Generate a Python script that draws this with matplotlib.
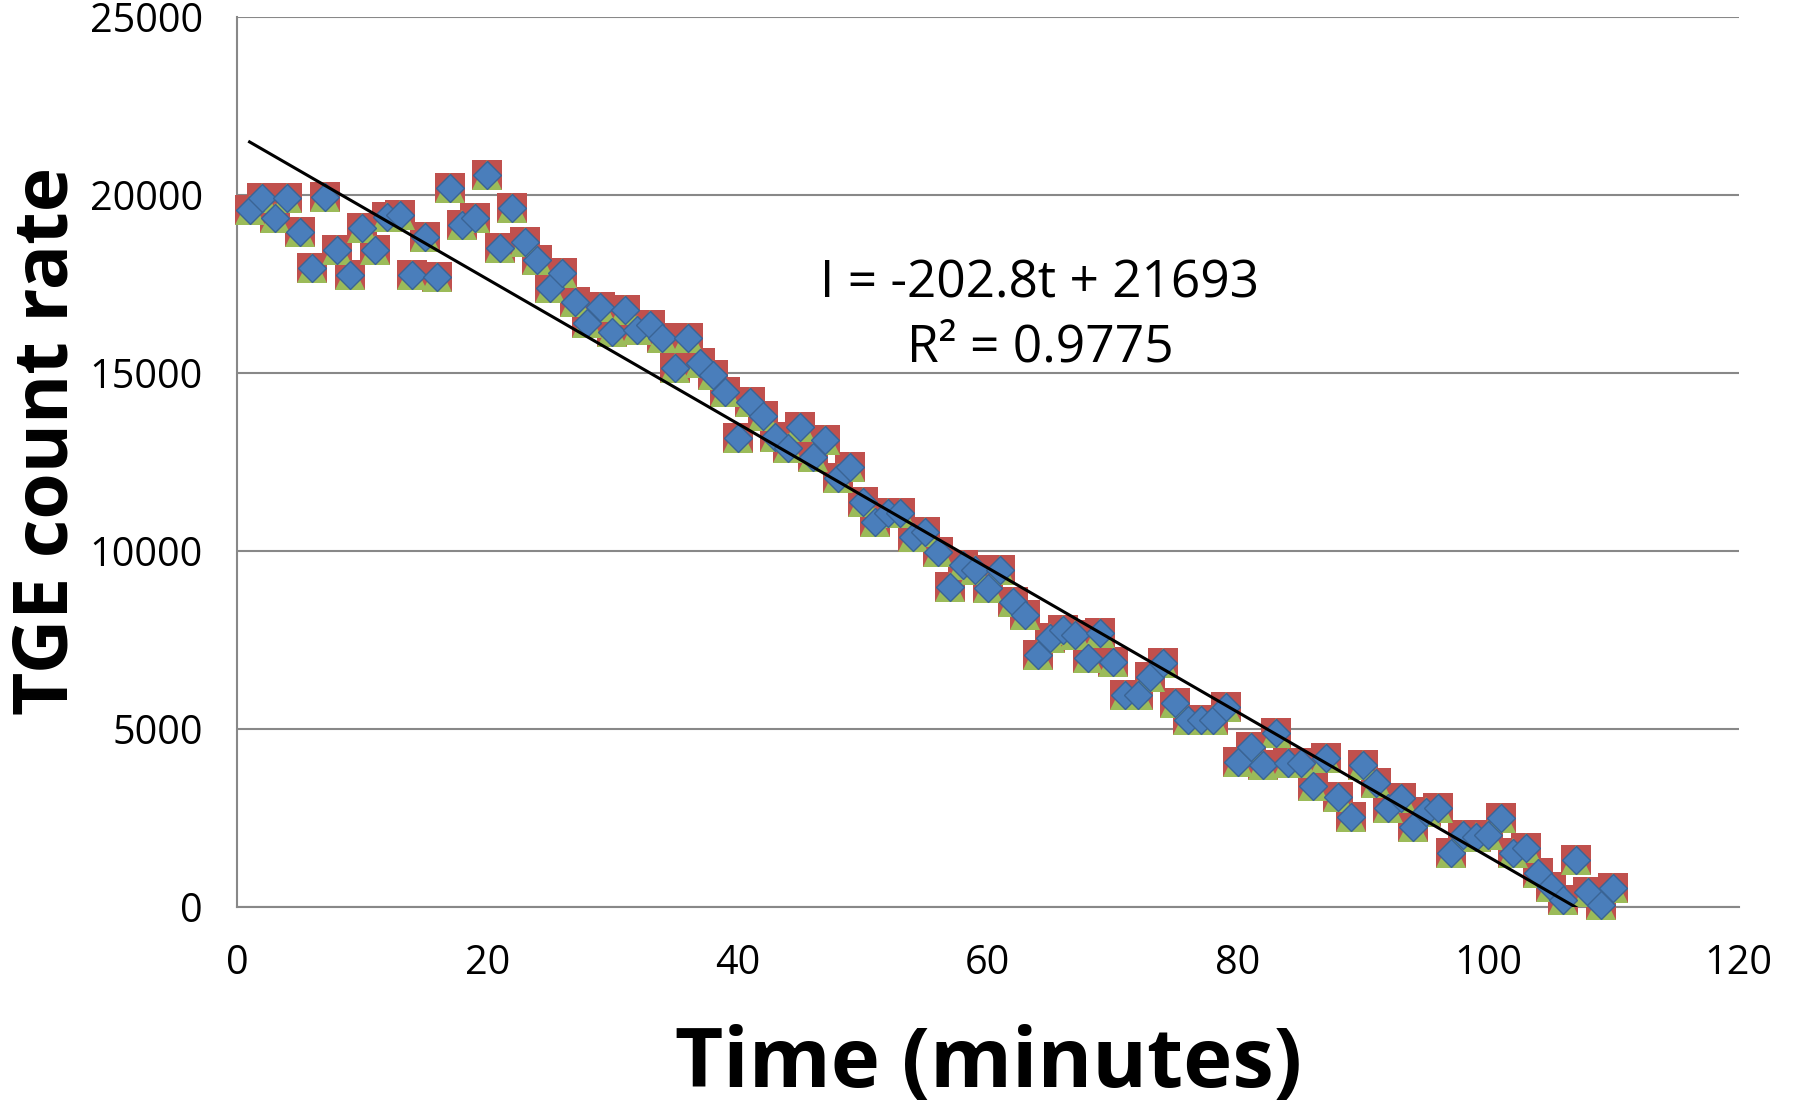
import matplotlib.pyplot as plt

plt.rcParams['font.family'] = ['Open Sans', 'DejaVu Sans']

# TGE count rate sampled once a minute
minutes = list(range(1, 111))
count_rate = [
    19580, 19920, 19350, 19920, 18960, 17950, 19940, 18450, 17750, 19070,
    18450, 19380, 19440, 17750, 18820, 17700, 20200, 19160, 19350, 20560,
    18510, 19630, 18680, 18170, 17390, 17810, 16990, 16400, 16850, 16150,
    16770, 16210, 16350, 15980, 15140, 15980, 15280, 14940, 14470, 13170,
    14190, 13800, 13200, 12890, 13480, 12640, 13120, 12050, 12360, 11380,
    10810, 11070, 11070, 10390, 10530, 9970, 8990, 9610, 9470, 8960,
    9470, 8570, 8190, 7080, 7560, 7780, 7640, 6990, 7700, 6880,
    5960, 5960, 6460, 6850, 5730, 5250, 5250, 5250, 5620, 4070,
    4490, 3990, 4890, 4045, 4060, 3400, 4185, 3090, 2530, 3990,
    3480, 2780, 3060, 2250, 2670, 2780, 1520, 2020, 1970, 2020,
    2500, 1520, 1660, 955, 560, 200, 1320, 420, 56, 530,
]

# linear trendline I = slope * t + intercept
slope = -202.8
intercept = 21693
r_squared = 0.9775

x_ticks = [0, 20, 40, 60, 80, 100, 120]
y_ticks = [0, 5000, 10000, 15000, 20000, 25000]

fig = plt.figure(figsize=(17.96, 11.09), dpi=100)
ax = fig.add_axes([0.132, 0.1821, 0.836, 0.8026])

# same readings drawn as three overlaid series
ax.plot(minutes, count_rate, linestyle='none', marker='s', markersize=21,
        color='#C0504D', markeredgewidth=0, clip_on=False, zorder=3)
ax.plot(minutes, count_rate, linestyle='none', marker='^', markersize=21,
        color='#9BBB59', markeredgewidth=0, clip_on=False, zorder=4)
ax.plot(minutes, count_rate, linestyle='none', marker='D', markersize=14.5,
        color='#4A7EBB', markeredgecolor='#3A6495', markeredgewidth=1,
        clip_on=False, zorder=5)

trend_t = [minutes[0], minutes[-1]]
trend_i = [slope * t + intercept for t in trend_t]
ax.plot(trend_t, trend_i, color='black', linewidth=2.2, zorder=6)

ax.text(0.579, 0.744, 'I = %.1ft + %d' % (slope, intercept), transform=fig.transFigure,
        ha='center', va='center', fontsize=37)
ax.text(0.579, 0.6865, 'R² = %.4f' % r_squared, transform=fig.transFigure,
        ha='center', va='center', fontsize=37)

ax.set_xlim(0, 120)
ax.set_ylim(0, 25000)
ax.set_xticks(x_ticks)
ax.set_xticklabels([str(v) for v in x_ticks])
ax.set_yticks(y_ticks)
ax.set_yticklabels([str(v) for v in y_ticks])
ax.tick_params(axis='both', length=0, labelsize=28.5)
ax.tick_params(axis='y', pad=24.5)
ax.tick_params(axis='x', pad=26)

ax.grid(axis='y', color='#888888', linewidth=1.5)
ax.set_axisbelow(True)
for side in ['top', 'right']:
    ax.spines[side].set_visible(False)
for side in ['left', 'bottom']:
    ax.spines[side].set_color('#888888')
    ax.spines[side].set_linewidth(1.5)

fig.text(0.5506, 0.039, 'Time (minutes)', ha='center', va='center',
         fontsize=60, fontweight='bold')
fig.text(0.0267, 0.602, 'TGE count rate', ha='center', va='center',
         rotation=90, fontsize=54, fontweight='bold')

fig.savefig('out.png', dpi=100)
